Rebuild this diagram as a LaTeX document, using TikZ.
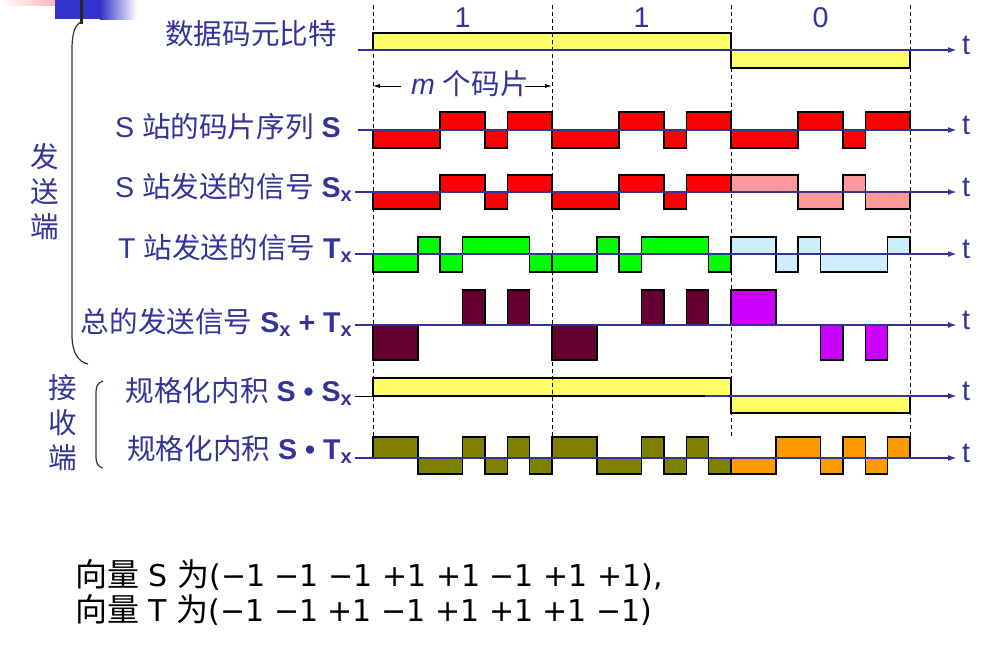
\documentclass[tikz,border=0pt]{standalone}
\usepackage{fontspec}
\setmainfont{Liberation Sans}
\newfontfamily\cjk{Noto Sans CJK SC}
\newfontfamily\dejavu{DejaVu Sans}
\usepackage{tikz}
\usetikzlibrary{arrows.meta}
\definecolor{azulT}{HTML}{333399}
\definecolor{azulDeco}{HTML}{3333CC}
\definecolor{rosaDeco}{HTML}{FFA0A0}
\definecolor{amarillo}{HTML}{FFFF66}
\definecolor{rojoS}{HTML}{FF0000}
\definecolor{rosaS}{HTML}{FF9999}
\definecolor{verdeT}{HTML}{00FF00}
\definecolor{celesteT}{HTML}{CCECFF}
\definecolor{granate}{HTML}{660033}
\definecolor{magentaS}{HTML}{CC00FF}
\definecolor{oliva}{HTML}{808000}
\definecolor{naranja}{HTML}{FF9900}
\newcommand{\indice}[1]{\raisebox{-4pt}{\fontsize{20}{20}\selectfont\bfseries #1}}
\tikzset{
  rotulo/.style={text=azulT, font=\fontsize{28.6}{32}\selectfont, inner sep=0pt},
  eje/.style={azulT, line width=2.6pt, shorten >=5pt, -{Latex[length=9pt,width=6pt]}},
  onda/.style={draw=black, line width=1.6pt},
  corte/.style={black, line width=0.7pt, dash pattern=on 4pt off 3pt},
  cota/.style={black, line width=0.8pt, -{Latex[length=7pt,width=4pt]}},
  llave/.style={black!80, line width=1.2pt},
}

\begin{document}
\begin{tikzpicture}[x=1pt,y=-1pt]
  \useasboundingbox (0,0) rectangle (995,651);
  % adorno de la plantilla
  \shade[left color=white, right color=rosaDeco] (0,0) rectangle (72,5);
  \fill[azulDeco] (55,0) rectangle (100,19);
  \shade[left color=azulDeco, right color=white] (100,0) rectangle (137,19);
  \fill[black!85] (80,0) rectangle (83,24);

  % llaves
  \draw[llave] (83,21) .. controls (74,24) and (72,35) .. (72,50) -- (72,335)
        .. controls (72,352) and (78,362) .. (88,364);
  \draw[llave] (103,381) .. controls (97,383) and (96,387) .. (96,393) -- (96,457)
        .. controls (96,463) and (98,467) .. (103,468);
  \node[rotulo, align=center, font=\cjk\fontsize{28.6}{35}\selectfont] (emisor) at (45,192) {发\\送\\端};
  \node[rotulo, align=center, font=\cjk\fontsize{28.6}{35}\selectfont] (receptor) at (63,423) {接\\收\\端};

  % bits de datos
  \node[rotulo] (b1) at (462.5,18) {1};
  \node[rotulo] (b2) at (641.5,18) {1};
  \node[rotulo] (b3) at (820.5,18) {0};
  \filldraw[onda, fill=amarillo] (373,50) rectangle (731,33);
  \filldraw[onda, fill=amarillo] (731,50) rectangle (910,68);

  % secuencia S
  \filldraw[onda, fill=rojoS] (373,130) rectangle (440.1,148);
  \filldraw[onda, fill=rojoS] (440.1,130) rectangle (484.9,112);
  \filldraw[onda, fill=rojoS] (484.9,130) rectangle (507.3,148);
  \filldraw[onda, fill=rojoS] (507.3,130) rectangle (552,112);
  \filldraw[onda, fill=rojoS] (552,130) rectangle (619.1,148);
  \filldraw[onda, fill=rojoS] (619.1,130) rectangle (663.9,112);
  \filldraw[onda, fill=rojoS] (663.9,130) rectangle (686.3,148);
  \filldraw[onda, fill=rojoS] (686.3,130) rectangle (731,112);
  \filldraw[onda, fill=rojoS] (731,130) rectangle (798.1,148);
  \filldraw[onda, fill=rojoS] (798.1,130) rectangle (842.9,112);
  \filldraw[onda, fill=rojoS] (842.9,130) rectangle (865.3,148);
  \filldraw[onda, fill=rojoS] (865.3,130) rectangle (910,112);

  % senal Sx
  \filldraw[onda, fill=rojoS] (373,192) rectangle (440.1,209);
  \filldraw[onda, fill=rojoS] (440.1,192) rectangle (484.9,175);
  \filldraw[onda, fill=rojoS] (484.9,192) rectangle (507.3,209);
  \filldraw[onda, fill=rojoS] (507.3,192) rectangle (552,175);
  \filldraw[onda, fill=rojoS] (552,192) rectangle (619.1,209);
  \filldraw[onda, fill=rojoS] (619.1,192) rectangle (663.9,175);
  \filldraw[onda, fill=rojoS] (663.9,192) rectangle (686.3,209);
  \filldraw[onda, fill=rojoS] (686.3,192) rectangle (731,175);
  \filldraw[onda, fill=rosaS] (731,192) rectangle (798.1,175);
  \filldraw[onda, fill=rosaS] (798.1,192) rectangle (842.9,209);
  \filldraw[onda, fill=rosaS] (842.9,192) rectangle (865.3,175);
  \filldraw[onda, fill=rosaS] (865.3,192) rectangle (910,209);

  % senal Tx
  \filldraw[onda, fill=verdeT] (373,254) rectangle (417.8,272);
  \filldraw[onda, fill=verdeT] (417.8,254) rectangle (440.1,237);
  \filldraw[onda, fill=verdeT] (440.1,254) rectangle (462.5,272);
  \filldraw[onda, fill=verdeT] (462.5,254) rectangle (529.6,237);
  \filldraw[onda, fill=verdeT] (529.6,254) rectangle (552,272);
  \filldraw[onda, fill=verdeT] (552,254) rectangle (596.8,272);
  \filldraw[onda, fill=verdeT] (596.8,254) rectangle (619.1,237);
  \filldraw[onda, fill=verdeT] (619.1,254) rectangle (641.5,272);
  \filldraw[onda, fill=verdeT] (641.5,254) rectangle (708.6,237);
  \filldraw[onda, fill=verdeT] (708.6,254) rectangle (731,272);
  \filldraw[onda, fill=celesteT] (731,254) rectangle (775.8,237);
  \filldraw[onda, fill=celesteT] (775.8,254) rectangle (798.1,272);
  \filldraw[onda, fill=celesteT] (798.1,254) rectangle (820.5,237);
  \filldraw[onda, fill=celesteT] (820.5,254) rectangle (887.6,272);
  \filldraw[onda, fill=celesteT] (887.6,254) rectangle (910,237);

  % suma Sx + Tx
  \filldraw[onda, fill=granate] (373,325) rectangle (417.8,360);
  \filldraw[onda, fill=granate] (462.5,325) rectangle (484.9,290);
  \filldraw[onda, fill=granate] (507.3,325) rectangle (529.6,290);
  \filldraw[onda, fill=granate] (552,325) rectangle (596.8,360);
  \filldraw[onda, fill=granate] (641.5,325) rectangle (663.9,290);
  \filldraw[onda, fill=granate] (686.3,325) rectangle (708.6,290);
  \filldraw[onda, fill=magentaS] (731,325) rectangle (775.8,290);
  \filldraw[onda, fill=magentaS] (820.5,325) rectangle (842.9,360);
  \filldraw[onda, fill=magentaS] (865.3,325) rectangle (887.6,360);

  % S . Sx
  \filldraw[onda, fill=amarillo] (373,396) rectangle (731,378);
  \filldraw[onda, fill=amarillo] (731,396) rectangle (910,413);

  % S . Tx
  \filldraw[onda, fill=oliva] (373,458) rectangle (417.8,437);
  \filldraw[onda, fill=oliva] (417.8,458) rectangle (462.5,474);
  \filldraw[onda, fill=oliva] (462.5,458) rectangle (484.9,437);
  \filldraw[onda, fill=oliva] (484.9,458) rectangle (507.3,474);
  \filldraw[onda, fill=oliva] (507.3,458) rectangle (529.6,437);
  \filldraw[onda, fill=oliva] (529.6,458) rectangle (552,474);
  \filldraw[onda, fill=oliva] (552,458) rectangle (596.8,437);
  \filldraw[onda, fill=oliva] (596.8,458) rectangle (641.5,474);
  \filldraw[onda, fill=oliva] (641.5,458) rectangle (663.9,437);
  \filldraw[onda, fill=oliva] (663.9,458) rectangle (686.3,474);
  \filldraw[onda, fill=oliva] (686.3,458) rectangle (708.6,437);
  \filldraw[onda, fill=oliva] (708.6,458) rectangle (731,474);
  \filldraw[onda, fill=naranja] (731,458) rectangle (775.8,474);
  \filldraw[onda, fill=naranja] (775.8,458) rectangle (820.5,437);
  \filldraw[onda, fill=naranja] (820.5,458) rectangle (842.9,474);
  \filldraw[onda, fill=naranja] (842.9,458) rectangle (865.3,437);
  \filldraw[onda, fill=naranja] (865.3,458) rectangle (887.6,474);
  \filldraw[onda, fill=naranja] (887.6,458) rectangle (910,437);

  % limites de bit
  \draw[corte] (373,5) -- (373,437);
  \draw[corte] (552,5) -- (552,437);
  \draw[corte] (731,5) -- (731,437);
  \draw[corte] (910,5) -- (910,437);

  % m chips
  \coordinate (mI) at (373,86);
  \coordinate (mD) at (552,86);
  \node[rotulo] (m) at (470,84) {\textit{m} {\cjk 个码片}};
  \draw[cota] ([xshift=-10pt]m.west |- mI) -- (mI);
  \draw[cota] ([xshift=-4pt]m.east |- mD) -- (mD);

  % rotulos
  \node[rotulo, anchor=base east] (lDatos) at (337,44) {\cjk 数据码元比特};
  \node[rotulo, anchor=base east] (lS) at (341,137) {S {\cjk 站的码片序列} \textbf{S}};
  \node[rotulo, anchor=base east] (lSx) at (352,197) {S {\cjk 站发送的信号} \textbf{S}\indice{x}};
  \node[rotulo, anchor=base east] (lTx) at (352,258) {T {\cjk 站发送的信号} \textbf{T}\indice{x}};
  \node[rotulo, anchor=base east] (lSuma) at (352,332) {{\cjk 总的发送信号} \textbf{S}\indice{x} \textbf{+} \textbf{T}\indice{x}};
  \node[rotulo, anchor=base east] (lSSx) at (352,401) {{\cjk 规格化内积} \textbf{S} \textbf{•} \textbf{S}\indice{x}};
  \node[rotulo, anchor=base east] (lSTx) at (352,459) {{\cjk 规格化内积} \textbf{S} \textbf{•} \textbf{T}\indice{x}};

  % ejes de tiempo
  \node[rotulo, anchor=base west] (t1) at (962,54) {t};
  \node[rotulo, anchor=base west] (t2) at (962,134) {t};
  \node[rotulo, anchor=base west] (t3) at (962,196) {t};
  \node[rotulo, anchor=base west] (t4) at (962,258) {t};
  \node[rotulo, anchor=base west] (t5) at (962,329) {t};
  \node[rotulo, anchor=base west] (t6) at (962,400) {t};
  \node[rotulo, anchor=base west] (t7) at (962,462) {t};
  \coordinate (a1) at (358,50);
  \coordinate (a2) at (358,130);
  \coordinate (a3) at (355,192);
  \coordinate (a4) at (355,254);
  \coordinate (a5) at (355,325);
  \coordinate (a6) at (705,396);
  \coordinate (a7) at (355,458);
  \draw[black, line width=1pt] (355,396) -- (a6);
  \draw[eje] (a1) -- (t1.west |- a1);
  \draw[eje] (a2) -- (t2.west |- a2);
  \draw[eje] (a3) -- (t3.west |- a3);
  \draw[eje] (a4) -- (t4.west |- a4);
  \draw[eje] (a5) -- (t5.west |- a5);
  \draw[eje] (a6) -- (t6.west |- a6);
  \draw[eje] (a7) -- (t7.west |- a7);

  % vectores
  \node[anchor=west, inner sep=0pt, font=\dejavu\fontsize{30}{35}\selectfont] (vecS) at (75,575)
    {{\cjk\fontsize{32}{35}\selectfont 向量} S {\cjk\fontsize{32}{35}\selectfont 为}(−1 −1 −1 +1 +1 −1 +1 +1),};
  \node[anchor=west, inner sep=0pt, font=\dejavu\fontsize{30}{35}\selectfont] (vecT) at (75,610)
    {{\cjk\fontsize{32}{35}\selectfont 向量} T {\cjk\fontsize{32}{35}\selectfont 为}(−1 −1 +1 −1 +1 +1 +1 −1)};
\end{tikzpicture}
\end{document}
